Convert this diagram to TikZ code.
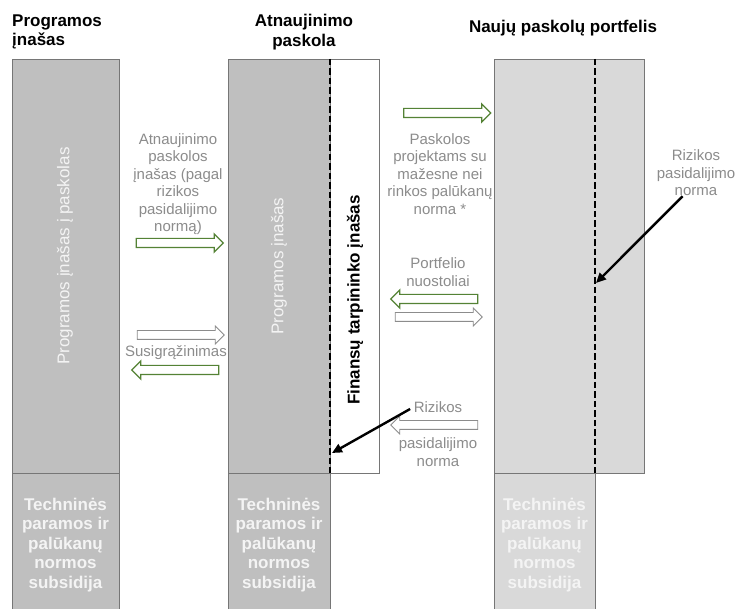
\documentclass[tikz,border=0pt]{standalone}
\usepackage{fontspec}
\setmainfont{Liberation Sans}
\usetikzlibrary{shapes.arrows,arrows.meta}
\definecolor{darkfill}{RGB}{191,191,191}
\definecolor{lightfill}{RGB}{217,217,217}
\definecolor{edgegray}{RGB}{118,118,118}
\definecolor{labelgray}{RGB}{140,140,140}
\definecolor{flowgreen}{RGB}{84,130,53}
\definecolor{softwhite}{RGB}{244,244,244}
\newcommand\subsidytext{Techninės\\paramos ir\\palūkanų\\normos\\subsidija}
\tikzset{
	column/.style={draw=edgegray, line width=0.8pt},
	split/.style={line width=2.3pt, dash pattern=on 6.5pt off 3pt},
	heading/.style={font=\bfseries\fontsize{17}{19.5}\selectfont, align=center, inner sep=0pt},
	flowlabel/.style={text=labelgray, font=\fontsize{15}{17.5}\selectfont, align=center, inner sep=0pt},
	sidelabel/.style={text=softwhite, font=\fontsize{17}{19.5}\selectfont, rotate=90, inner sep=0pt},
	subsidy/.style={text=softwhite, font=\bfseries\fontsize{17}{19.5}\selectfont, align=center, inner sep=0pt},
	flow/.style={single arrow, minimum height=87pt, minimum width=17pt, single arrow head extend=4.5pt, inner sep=4pt, fill=white},
	greenflow/.style={flow, draw=flowgreen, line width=1.2pt},
	grayflow/.style={flow, draw=labelgray, line width=0.8pt},
	back/.style={shape border rotate=180},
	pointer/.style={line width=2.4pt, -{Triangle[length=10pt,width=9pt]}}
}
\begin{document}
\begin{tikzpicture}[x=1pt, y=-1pt]
	\clip (0,0) rectangle (737,609);
	\fill[white] (0,0) rectangle (737,609);
	% columns
	\filldraw[column, fill=darkfill] (12,59) rectangle (119,473);
	\filldraw[column, fill=darkfill] (12,473) rectangle (119,615);
	\filldraw[column, fill=white] (330,59) rectangle (379,473);
	\filldraw[column, fill=darkfill] (228,59) rectangle (330,473);
	\filldraw[column, fill=darkfill] (228,473) rectangle (330,615);
	\filldraw[column, fill=lightfill] (494,59) rectangle (644,473);
	\filldraw[column, fill=lightfill] (494,473) rectangle (595,615);
	\draw[split] (330,59) -- (330,473);
	\draw[split] (595,59) -- (595,473);

	\node[heading, anchor=west, align=left] (progtitle) at (12,32) {Programos\\įnašas};
	\node[heading] (renewtitle) at (304,32) {Atnaujinimo\\paskola};
	\node[heading] (portftitle) at (563,28) {Naujų paskolų portfelis};

	\node[sidelabel] (progside) at (65,256) {Programos įnašas į paskolas};
	\node[sidelabel] (progmid) at (279,266) {Programos įnašas};
	\node[sidelabel, text=black, font=\bfseries\fontsize{17}{19.5}\selectfont] (agentside) at (355,300) {Finansų tarpininko įnašas};

	\foreach \x/\n in {65.5/left, 279/mid, 544.5/right}
		\node[subsidy] (sub\n) at (\x,545) {\subsidytext};

	% flows between the columns
	\node[flowlabel] (renewin) at (178,184) {Atnaujinimo\\paskolos\\įnašas (pagal\\rizikos\\pasidalijimo\\normą)};
	\node[greenflow] (renewflow) at (177.5,243) {};
	\node[grayflow] (repayout) at (178.5,335) {};
	\node[flowlabel] (repay) at (176,353) {Susigrąžinimas};
	\node[greenflow, back] (repayflow) at (177.5,370) {};

	\node[greenflow] (loanflow) at (445,113) {};
	\node[flowlabel] (loans) at (440,174) {Paskolos\\projektams su\\mažesne nei\\rinkos palūkanų\\norma *};
	\node[flowlabel] (losses) at (438,272) {Portfelio\\nuostoliai};
	\node[greenflow, back] (lossflow) at (436.5,299) {};
	\node[grayflow] (lossback) at (436.5,317) {};
	\node[flowlabel] (lowrisk) at (438,407) {Rizikos};
	\node[grayflow, back] (riskflow) at (436.5,425) {};
	\node[flowlabel] (lowrate) at (438,452) {pasidalijimo\\norma};
	\node[flowlabel] (riskrate) at (696,173) {Rizikos\\pasidalijimo\\norma};

	\coordinate (midsplit) at (332,453);
	\coordinate (rightsplit) at (596,283);
	\draw[pointer, shorten <=4pt] (lowrisk.west) -- (midsplit);
	\draw[pointer] (riskrate.-120) -- (rightsplit);
\end{tikzpicture}
\end{document}
